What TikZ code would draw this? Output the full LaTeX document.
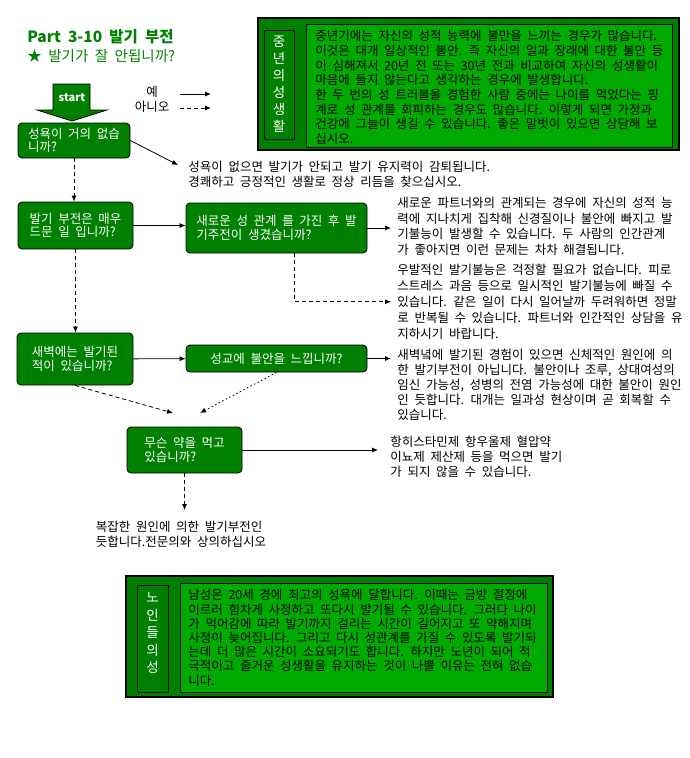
\documentclass[tikz,border=0pt]{standalone}
\usepackage{fontspec}
\setmainfont{Noto Sans CJK KR}[WordSpace=2]
\usetikzlibrary{arrows.meta}
\definecolor{darkgreen}{RGB}{0,128,0}
\definecolor{litegreen}{RGB}{0,170,0}

\begin{document}
\begin{tikzpicture}[x=1pt, y=-1pt, line width=0.8pt, >={Latex[length=6pt,width=5pt]},
        qbox/.style={draw, fill=darkgreen, rounded corners=4pt, text=white, align=left, inner sep=0pt, font=\fontsize{12.5}{13.5}\selectfont},
        note/.style={anchor=north west, align=left, inner sep=0pt, font=\fontsize{12.5}{15.5}\selectfont},
        dashline/.style={dash pattern=on 4pt off 3pt},
        dotline/.style={dash pattern=on 1.5pt off 2.5pt}]
            \useasboundingbox (0, 0) rectangle (690, 758);
            \draw (27, 37) node[anchor=west, inner sep=0pt, text=darkgreen, font=\fontsize{15.5}{18}\selectfont\bfseries](15){Part 3-10 발기 부전};
            \draw (27, 56) node[anchor=west, inner sep=0pt, text=darkgreen, font=\fontsize{14.5}{16}\selectfont](16){★ 발기가 잘 안됩니까?};
            \draw[fill=darkgreen] (53, 84) -- (90, 84) -- (90, 110) -- (107, 110) -- (72, 121) -- (37, 110) -- (53, 110) -- cycle;
            \draw (72, 98) node[text=white, font=\fontsize{11}{13}\selectfont\bfseries](0){start};
            \draw (152, 92) node[font=\fontsize{12.5}{14}\selectfont](13){예};
            \draw (152, 107) node[font=\fontsize{12.5}{14}\selectfont](14){아니오};
            \coordinate (21) at (180, 94);
            \coordinate (22) at (211, 94);
            \coordinate (23) at (180, 108);
            \coordinate (24) at (211, 108);
            \draw[->] (21) -- (22);
            \draw[->, dashline] (23) -- (24);
            \draw[fill=darkgreen, line width=1.2pt] (258, 18) rectangle (679, 150);
            \draw[fill=darkgreen] (264, 30) rectangle (294, 139);
            \draw[fill=litegreen] (306, 24) rectangle (672, 147);
            \draw (279, 84.5) node[text=white, align=center, font=\fontsize{13.5}{17}\selectfont](18){중\\년\\의\\성\\생\\활};
            \draw (315, 30) node[note, font=\fontsize{12.5}{14.7}\selectfont](17){중년기에는 자신의 성적 능력에 불만을 느끼는 경우가 많습니다.\\이것은 대개 일상적인 불안. 즉 자신의 일과 장래에 대한 불안 등\\이 심해져서 20년 전 또는 30년 전과 비교하여 자신의 성생활이\\마음에 들지 않는다고 생각하는 경우에 발생합니다.\\한 두 번의 성 트러블을 경험한 사람 중에는 나이를 먹었다는 핑\\계로 성 관계를 회피하는 경우도 많습니다. 이렇게 되면 가정과\\건강에 그늘이 생길 수 있습니다. 좋은 말벗이 있으면 상담해 보\\십시오.};
            \draw (74, 140.5) node[qbox, minimum width=112pt, minimum height=35pt](1){성욕이 거의 없습\\니까?};
            \draw (75.5, 225.5) node[qbox, minimum width=115pt, minimum height=47pt](2){발기 부전은 매우\\드문 일 입니까?};
            \draw (276.5, 228) node[qbox, minimum width=181pt, minimum height=50pt](3){새로운 성 관계 를 가진 후 발\\기주전이 생겼습니까?};
            \draw (75, 359) node[qbox, minimum width=116pt, minimum height=52pt](4){새벽에는 발기된\\적이 있습니까?};
            \draw (276.5, 358.5) node[qbox, minimum width=181pt, minimum height=27pt](5){성교에 불안을 느낍니까?};
            \draw (184.5, 450) node[qbox, minimum width=115pt, minimum height=46pt](6){무슨 약을 먹고\\있습니까?};
            \draw (188, 161) node[note, font=\fontsize{12.5}{15}\selectfont](7){성욕이 없으면 발기가 안되고 발기 유지력이 감퇴됩니다.\\경쾌하고 긍정적인 생활로 정상 리듬을 찾으십시오.};
            \draw (397, 197) node[note](8){새로운 파트너와의 관계되는 경우에 자신의 성적 능\\력에 지나치게 집착해 신경질이나 불안에 빠지고 발\\기불능이 발생할 수 있습니다. 두 사람의 인간관계\\가 좋아지면 이런 문제는 차차 해결됩니다.};
            \draw (397, 264) node[note, font=\fontsize{12.5}{15.8}\selectfont](9){우발적인 발기불능은 걱정할 필요가 없습니다. 피로\\스트레스 과음 등으로 일시적인 발기불능에 빠질 수\\있습니다. 같은 일이 다시 일어날까 두려워하면 정말\\로 반복될 수 있습니다. 파트너와 인간적인 상담을 유\\지하시기 바랍니다.};
            \draw (397, 349) node[note, font=\fontsize{12.5}{14.8}\selectfont](10){새벽녘에 발기된 경험이 있으면 신체적인 원인에 의\\한 발기부전이 아닙니다. 불안이나 조루, 상대여성의\\임신 가능성, 성병의 전염 가능성에 대한 불안이 원인\\인 듯합니다. 대개는 일과성 현상이며 곧 회복할 수\\있습니다.};
            \draw (390, 436) node[note, font=\fontsize{12.5}{15}\selectfont](11){항히스타민제 항우울제 혈압약\\이뇨제 제산제 등을 먹으면 발기\\가 되지 않을 수 있습니다.};
            \draw (181, 521) node[note, anchor=north, font=\fontsize{12.5}{15}\selectfont](12){복잡한 원인에 의한 발기부전인\\듯합니다.전문의와 상의하십시오};
            \coordinate (25) at (173, 413);
            \coordinate (26) at (200, 413);
            \draw[->, dashline] (1.south) -- (1.south |- 2.north);
            \draw[->] (1.east) -- ([shift={(-10,4)}]7.north west);
            \draw[->] (2) -- (2 -| 3.west);
            \draw[->, shorten >=6pt] (3) -- (3 -| 8.west);
            \draw[->, dashline, shorten >=6pt] ([xshift=18pt]3.south) |- (9.west);
            \draw[->, dashline] (2.south) -- (2.south |- 4.north);
            \draw[->] (4) -- (5);
            \draw[->, shorten >=6pt] (5) -- (5 -| 10.west);
            \draw[->, dashline] (4.south) -- (25);
            \draw[->, dotline] (5.south) -- (26);
            \draw[->, shorten >=12pt] (6) -- (6 -| 11.west);
            \draw[->, dashline, shorten >=11pt] (6.south) -- (6.south |- 12.north);
            \draw[fill=darkgreen, line width=1.2pt] (126, 576) rectangle (553, 697);
            \draw[fill=darkgreen] (137, 585) rectangle (168, 692);
            \draw[fill=litegreen] (180, 583) rectangle (547, 692);
            \draw (152.5, 633) node[text=white, align=center, font=\fontsize{13.5}{17.5}\selectfont](20){노\\인\\들\\의\\성};
            \draw (188, 589) node[note, font=\fontsize{12.5}{14.2}\selectfont](19){남성은 20세 경에 최고의 성욕에 달합니다. 이때는 금방 절정에\\이르러 힘차게 사정하고 또다시 발기될 수 있습니다. 그러다 나이\\가 먹어감에 따라 발기까지 걸리는 시간이 길어지고 또 약해지며\\사정이 늦어집니다. 그리고 다시 성관계를 가질 수 있도록 발기되\\는데 더 많은 시간이 소요되기도 합니다. 하지만 노년이 되어 적\\극적이고 즐거운 성생활을 유지하는 것이 나쁠 이유는 전혀 없습\\니다.};
        \end{tikzpicture}
\end{document}
